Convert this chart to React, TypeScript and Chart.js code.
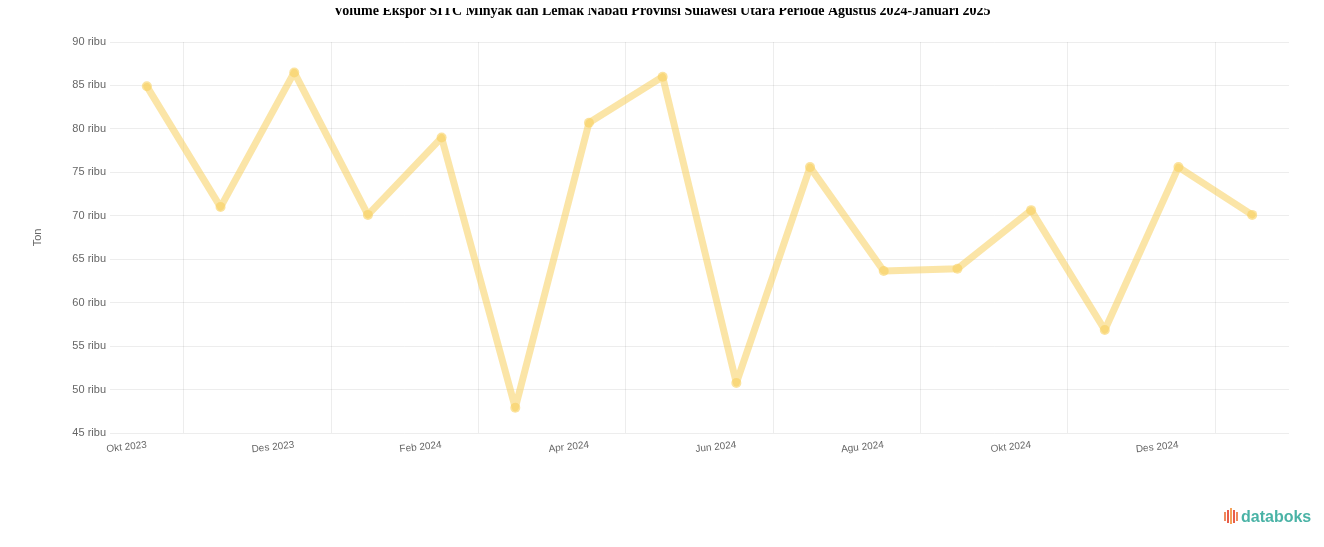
import React, { useEffect, useRef } from "react";
import { Chart, registerables } from "chart.js";

Chart.register(...registerables);

const TITLE =
  "Volume Ekspor SITC Minyak dan Lemak Nabati Provinsi Sulawesi Utara Periode Agustus 2024-Januari 2025";

const categories = [
  "Okt 2023", "Nov 2023", "Des 2023", "Jan 2024", "Feb 2024", "Mar 2024",
  "Apr 2024", "Mei 2024", "Jun 2024", "Jul 2024", "Agu 2024", "Sep 2024",
  "Okt 2024", "Nov 2024", "Des 2024", "Jan 2025",
];

const volumeTon = [
  84900, 71000, 86500, 70100, 79000, 47900, 80700, 86000,
  50750, 75600, 63650, 63900, 70650, 56850, 75600, 70100,
];

const yMin = 45000;
const yMax = 90000;
const yStep = 5000;
const yAxisTitle = "Ton";

const titlePlugin = {
  id: "topTitle",
  afterDraw(chart: any) {
    const { ctx, width } = chart;
    ctx.save();
    ctx.font = "bold 14px 'Liberation Serif'";
    ctx.fillStyle = "#000";
    ctx.textAlign = "center";
    ctx.textBaseline = "alphabetic";
    ctx.fillText(TITLE, width / 2, 15);
    ctx.restore();
  },
};

export default function App() {
  const ref = useRef<HTMLCanvasElement | null>(null);

  useEffect(() => {
    if (!ref.current) return;
    const chart = new Chart(ref.current, {
      type: "line",
      data: {
        labels: categories,
        datasets: [
          {
            label: "Volume",
            data: volumeTon,
            borderColor: "rgba(248, 208, 95, 0.55)",
            backgroundColor: "rgba(248, 208, 95, 0.6)",
            borderWidth: 7,
            borderJoinStyle: "round",
            borderCapStyle: "round",
            pointRadius: 5,
            pointBorderWidth: 0,
            tension: 0,
          },
        ],
      },
      plugins: [titlePlugin],
      options: {
        animation: false,
        responsive: false,
        layout: { padding: { top: 42, right: 35, bottom: 0, left: 8 } },
        plugins: {
          legend: { display: false },
          title: { display: false },
          tooltip: { enabled: false },
        },
        scales: {
          x: {
            offset: true,
            border: { display: false },
            grid: {
              offset: true,
              drawTicks: false,
              color: (ctx: any) => (ctx.index % 2 === 1 ? "rgba(0,0,0,0.07)" : "rgba(0,0,0,0)"),
              lineWidth: 1,
            },
            ticks: {
              autoSkip: false,
              minRotation: 6,
              maxRotation: 6,
              padding: 6,
              color: "#666",
              font: { family: "Liberation Sans", size: 10 },
              callback: (_v: any, i: number) => (i % 2 === 0 ? categories[i] : ""),
            },
            afterFit: (s: any) => {
              s.height = 114;
            },
          },
          y: {
            min: yMin,
            max: yMax,
            border: { display: false },
            grid: { drawTicks: false, color: "rgba(0,0,0,0.07)" },
            title: {
              display: true,
              text: yAxisTitle,
              color: "#666",
              padding: { top: 23, bottom: 0 },
              font: { family: "Liberation Sans", size: 11 },
            },
            ticks: {
              stepSize: yStep,
              padding: 4,
              color: "#666",
              font: { family: "Liberation Sans", size: 11 },
              callback: (v: any) => `${Number(v) / 1000} ribu`,
            },
            afterFit: (s: any) => {
              s.width = 102;
            },
          },
        },
      },
    });
    return () => chart.destroy();
  }, []);

  return (
    <div style={{ position: "relative", width: 1308, height: 531 }}>
      <canvas
        ref={ref}
        width={1324}
        height={547}
        style={{ display: "block", position: "absolute", left: -8, top: -8 }}
      />
      <div
        style={{
          position: "absolute",
          left: 1216,
          top: 500,
          display: "flex",
          alignItems: "flex-end",
          fontFamily: "Liberation Sans",
        }}
      >
        <div style={{ display: "flex", alignItems: "flex-start", gap: 1, marginRight: 3, height: 18 }}>
          <span style={{ width: 2, height: 9, background: "#f08a5d", display: "block", marginTop: 4 }} />
          <span style={{ width: 2, height: 13, background: "#e85d4a", display: "block", marginTop: 2 }} />
          <span style={{ width: 2, height: 16, background: "#f4a259", display: "block" }} />
          <span style={{ width: 2, height: 13, background: "#e85d4a", display: "block", marginTop: 2 }} />
          <span style={{ width: 2, height: 9, background: "#f08a5d", display: "block", marginTop: 4 }} />
        </div>
        <span style={{ color: "#4ab3a6", fontSize: 16, fontWeight: "bold", lineHeight: "18px" }}>databoks</span>
      </div>
    </div>
  );
}
